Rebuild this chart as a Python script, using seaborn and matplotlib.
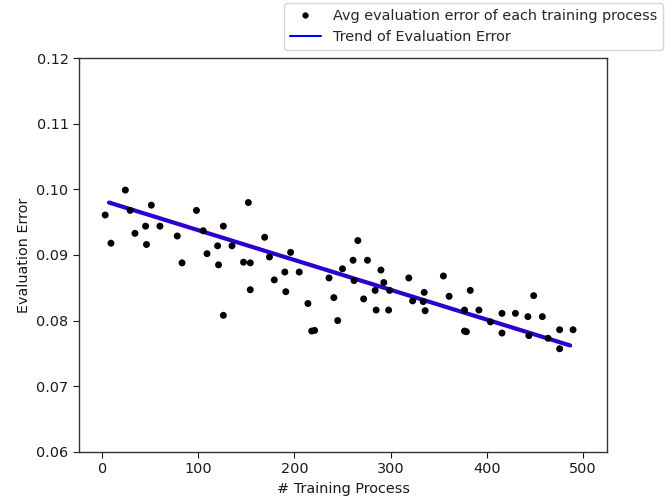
import matplotlib
matplotlib.use("Agg")
import matplotlib.pyplot as plt
import seaborn as sns
import pandas as pd
from matplotlib.lines import Line2D

# ---- data ----
process_x = [3, 9, 24, 29, 34, 45, 46, 51, 60, 78, 83, 98, 105, 109, 120, 121,
             126, 126, 135, 147, 152, 154, 154, 169, 174, 179, 190, 191, 196, 205,
             214, 218, 221, 236, 241, 245, 250, 261, 262, 266, 272, 276, 284, 285,
             290, 293, 298, 299, 319, 323, 334, 335, 336, 355, 361, 377, 377, 379,
             383, 392, 404, 416, 416, 430, 443, 444, 449, 458, 464, 476, 476, 490]
eval_error = [0.0961, 0.0918, 0.0999, 0.0968, 0.0933, 0.0944, 0.0916, 0.0976, 0.0944,
              0.0929, 0.0888, 0.0968, 0.0937, 0.0902, 0.0914, 0.0885, 0.0944, 0.0808,
              0.0914, 0.0889, 0.0980, 0.0888, 0.0847, 0.0927, 0.0897, 0.0862, 0.0874,
              0.0844, 0.0904, 0.0874, 0.0826, 0.0784, 0.0785, 0.0865, 0.0835, 0.0800,
              0.0879, 0.0892, 0.0861, 0.0922, 0.0833, 0.0892, 0.0846, 0.0816, 0.0877,
              0.0858, 0.0816, 0.0846, 0.0865, 0.0830, 0.0829, 0.0843, 0.0815, 0.0868,
              0.0837, 0.0816, 0.0784, 0.0783, 0.0846, 0.0816, 0.0798, 0.0811, 0.0781,
              0.0811, 0.0806, 0.0777, 0.0838, 0.0806, 0.0773, 0.0786, 0.0757, 0.0786]
trend_x = [7, 487]
trend_y = [0.0980, 0.0762]

x_ticks = [0, 100, 200, 300, 400, 500]
y_ticks = [0.06, 0.07, 0.08, 0.09, 0.10, 0.11, 0.12]

points = pd.DataFrame({"x": process_x, "y": eval_error})
trend = pd.DataFrame({"x": trend_x, "y": trend_y})

sns.set_style("ticks")
plt.rcParams["font.family"] = ["DejaVu Sans"]

FS = 10.4

fig = plt.figure(figsize=(6.65, 5.03), dpi=100)
ax = fig.add_axes([0.1188, 0.1020, 0.7944, 0.7821])

sns.scatterplot(data=points, x="x", y="y", ax=ax, color="black", s=25,
                edgecolor="none", legend=False, zorder=3)
sns.lineplot(data=trend, x="x", y="y", ax=ax, color="#2c00d0", linewidth=3,
             legend=False, zorder=2)

ax.set_xlim(-24.25, 525.6)
ax.set_ylim(0.06, 0.12)
ax.set_xticks(x_ticks)
ax.set_yticks(y_ticks)
ax.set_yticklabels([f"{v:.2f}" for v in y_ticks])
ax.set_xlabel("# Training Process", fontsize=FS, color="#1a1a1a")
ax.set_ylabel("Evaluation Error", fontsize=FS, color="#1a1a1a")
ax.tick_params(labelsize=FS, colors="#1a1a1a", direction="out", length=4)
for sp in ax.spines.values():
    sp.set_visible(True)
    sp.set_color("#333333")
    sp.set_linewidth(1.0)

handles = [
    Line2D([], [], linestyle="none", marker="o", color="black", markersize=3.5),
    Line2D([], [], color="blue", linewidth=1.5),
]
labels = ["Avg evaluation error of each training process", "Trend of Evaluation Error"]
fig.legend(handles, labels, loc="upper right", bbox_to_anchor=(0.997, 0.994),
           borderaxespad=0, fontsize=FS, frameon=True, framealpha=0.8,
           edgecolor="#cccccc", fancybox=True, handlelength=2.2)

fig.savefig("out.png", dpi=100)
